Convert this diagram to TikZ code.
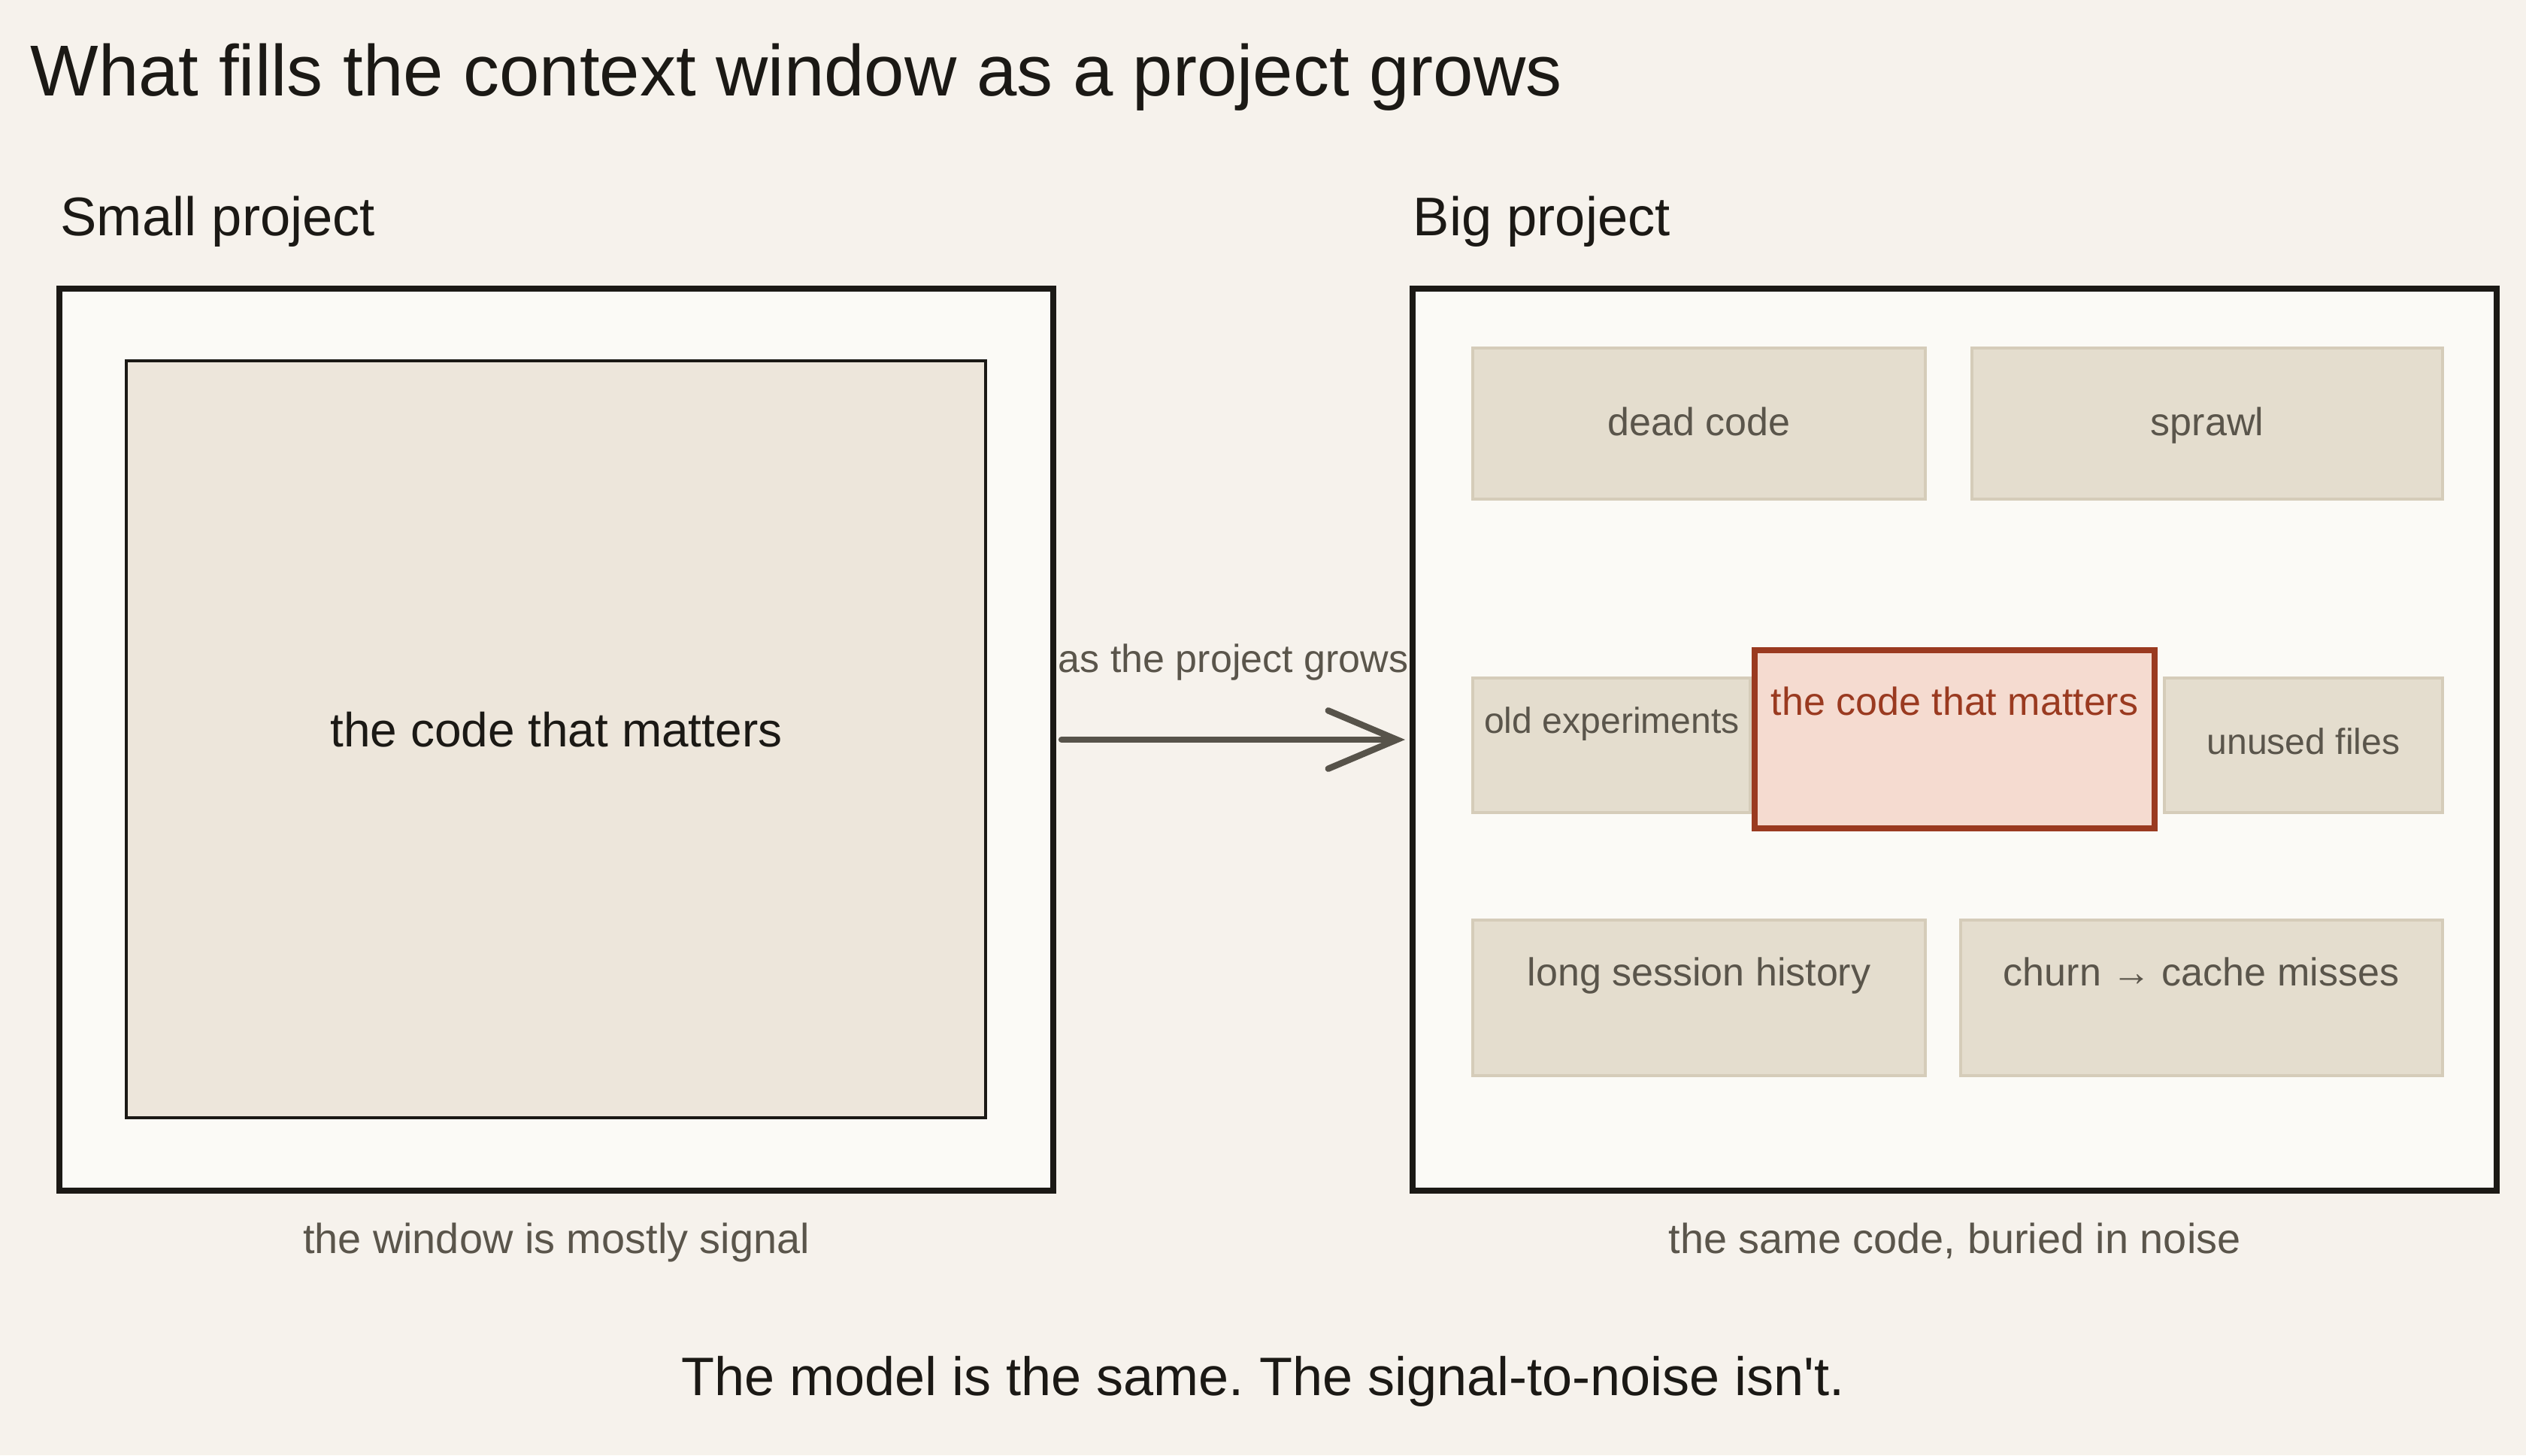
\documentclass[tikz,border=0pt]{standalone}
\usepackage{fontspec}
\setmainfont{Liberation Sans}
\usepackage{xcolor}
\usetikzlibrary{positioning,arrows.meta}
\definecolor{bgcolor}{HTML}{F6F2EC}
\definecolor{wincolor}{HTML}{FBFAF6}
\definecolor{inkcolor}{HTML}{1B1915}
\definecolor{signalcolor}{HTML}{EDE6DB}
\definecolor{noisefill}{HTML}{E4DDCE}
\definecolor{noisedraw}{HTML}{D5CCB9}
\definecolor{mutedtext}{HTML}{5A554B}
\definecolor{arrowcolor}{HTML}{57534A}
\definecolor{corefill}{HTML}{F5DBD0}
\definecolor{coredraw}{HTML}{9A3A20}
\frenchspacing

\begin{document}
\begin{tikzpicture}[
  window/.style={draw=inkcolor, fill=wincolor, line width=2.3pt, inner sep=0pt},
  signalbox/.style={draw=inkcolor, fill=signalcolor, line width=1.1pt, inner sep=0pt},
  noisebox/.style={draw=noisedraw, fill=noisefill, line width=1pt, inner sep=0pt},
  corebox/.style={draw=coredraw, fill=corefill, line width=2.3pt, inner sep=0pt},
  heading/.style={anchor=base west, inner sep=0pt, text=inkcolor, font=\fontsize{20.6pt}{24pt}\selectfont},
  noiselabel/.style={anchor=base, inner sep=0pt, text=mutedtext, font=\fontsize{14.8pt}{18pt}\selectfont},
  smalllabel/.style={noiselabel, font=\fontsize{13.7pt}{16pt}\selectfont},
  caption/.style={anchor=base, inner sep=0pt, text=mutedtext, font=\fontsize{15.9pt}{19pt}\selectfont},
  growarrow/.style={draw=arrowcolor, line width=2.4pt, line cap=round, -{Straight Barb[length=26pt, width=22pt, line cap=round]}},
]

% Page and bounding box
\fill[bgcolor] (0,0) rectangle (33.6,-19.36);
\useasboundingbox (0,0) rectangle (33.6,-19.36);

% Title and headings
\node[heading, font=\fontsize{27.3pt}{32pt}\selectfont] (title) at (0.40,-1.27) {What fills the context window as a project grows};
\node[heading] (smallhead) at (0.80,-3.13) {Small project};
\node[heading] (bighead) at (18.79,-3.13) {Big project};

% Small project window
\node[window, minimum width=13.22cm, minimum height=12cm] (smallwin) at (7.40,-9.84) {};
\node[signalbox, minimum width=11.43cm, minimum height=10.07cm] (signal) at (7.395,-9.835) {};
\node[anchor=base, inner sep=0pt, text=inkcolor, font=\fontsize{18.2pt}{22pt}\selectfont] (signaltext) at (7.40,-9.93) {the code that matters};

% Big project window
\node[window, minimum width=14.42cm, minimum height=12cm] (bigwin) at (26.00,-9.84) {};
\node[noisebox, minimum width=6.02cm, minimum height=2.01cm] (dead) at (22.60,-5.635) {};
\node[noisebox, minimum width=6.26cm, minimum height=2.01cm] (sprawl) at (29.36,-5.635) {};
\node[noisebox, minimum width=3.69cm, minimum height=1.79cm] (oldexp) at (21.435,-9.915) {};
\node[corebox, minimum width=5.32cm, minimum height=2.37cm] (core) at (26.00,-9.835) {};
\node[noisebox, minimum width=3.70cm, minimum height=1.79cm] (unused) at (30.64,-9.915) {};
\node[noisebox, minimum width=6.02cm, minimum height=2.07cm] (history) at (22.60,-13.275) {};
\node[noisebox, minimum width=6.41cm, minimum height=2.07cm] (churn) at (29.285,-13.275) {};

% Labels inside the big window
\node[noiselabel] (deadtext) at (22.60,-5.79) {dead code};
\node[noiselabel] (sprawltext) at (29.36,-5.79) {sprawl};
\node[smalllabel] (oldexptext) at (21.44,-9.75) {old experiments};
\node[noiselabel, text=coredraw] (coretext) at (26.00,-9.51) {the code that matters};
\node[smalllabel] (unusedtext) at (30.64,-10.03) {unused files};
\node[noiselabel] (historytext) at (22.60,-13.11) {long session history};
\node[noiselabel] (churntext) at (29.28,-13.11) {churn → cache misses};

% Growth arrow between the windows
\draw[growarrow] ([xshift=0.07cm]smallwin.east) -- ([xshift=-0.06cm]bigwin.west)
  node[midway, noiselabel, yshift=0.90cm] (growtext) {as the project grows};

% Captions
\node[caption] (smallcap) at (7.40,-16.67) {the window is mostly signal};
\node[caption] (bigcap) at (26.00,-16.67) {the same code, buried in noise};
\node[anchor=base, inner sep=0pt, text=inkcolor, font=\fontsize{20.5pt}{24pt}\selectfont] (moral) at (16.80,-18.56) {The model is the same. The signal-to-noise isn\textquotesingle t.};

\end{tikzpicture}
\end{document}
